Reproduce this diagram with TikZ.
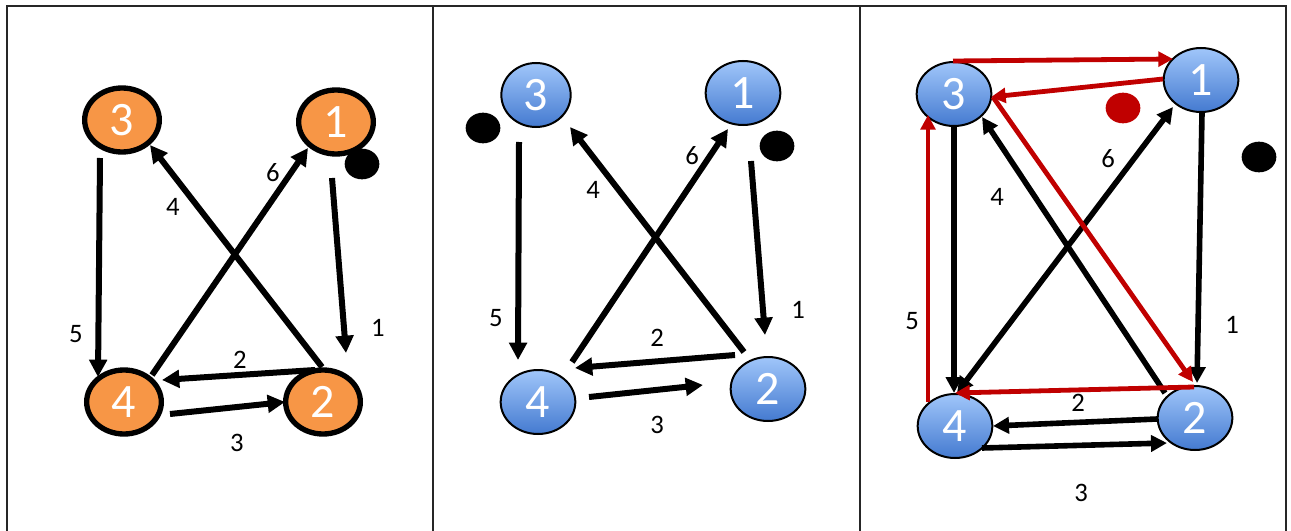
\documentclass[tikz,border=0pt]{standalone}
\usepackage{fontspec}
\setmainfont{Carlito}
\usetikzlibrary{arrows.meta,calc,shapes.geometric}
\definecolor{orng}{RGB}{247,150,70}
\definecolor{btop}{RGB}{160,198,250}
\definecolor{bbot}{RGB}{68,122,208}
\definecolor{redc}{RGB}{192,0,0}
\tikzset{
  onode/.style={ellipse,draw=black,line width=4pt,fill=orng,minimum width=56pt,minimum height=48pt,inner sep=0pt,text=white,font=\fontsize{36}{36}\selectfont},
  bnode/.style={ellipse,draw=black,line width=1.5pt,top color=btop,bottom color=bbot,minimum width=56pt,minimum height=48pt,inner sep=0pt,text=white,font=\fontsize{36}{36}\selectfont},
  arr/.style={line width=4.5pt,-{Triangle[length=13pt,width=13pt]}},
  arrb/.style={line width=4.2pt,-{Triangle[length=12pt,width=12pt]}},
  arrbb/.style={line width=4.2pt,{Triangle[length=12pt,width=12pt]}-{Triangle[length=12pt,width=12pt]}},
  arrr/.style={line width=3.6pt,draw=redc,-{Triangle[length=11pt,width=11pt]}},
  lbl/.style={font=\fontsize{20}{20}\selectfont,inner sep=0pt},
  blob/.style={ellipse,fill=black,minimum width=26pt,minimum height=23pt,inner sep=0pt},
  panelframe/.style={line width=1.8pt,draw=black!85}
}
\begin{document}
\begin{tikzpicture}[x=0.75pt,y=-0.75pt]
\useasboundingbox (0,0) rectangle (1291,531);
% frame
\draw[panelframe] (7,545) -- (7,6) -- (1286,6) -- (1286,545);
\draw[panelframe] (433,6) -- (433,545);
\draw[panelframe] (860,6) -- (860,545);

% ---------- panel 1 ----------
\node[onode] (a1) at (336,122) {1};
\node[onode] (a2) at (323,402) {2};
\node[onode] (a3) at (122,120) {3};
\node[onode] (a4) at (124,402) {4};
\node[blob] (ad) at (362,164) {};
\draw[arr] ($(a3)+(-22,38)$) -- ($(a4)+(-26,-25)$);
\draw[arr] ($(a1)+(-4,56)$) -- ($(a2)+(23,-49)$);
\draw[arr] ($(a2)+(-1,-35)$) -- ($(a3)+(28,25)$);
\draw[arr] ($(a4)+(28,-27)$) -- ($(a1)+(-28,26)$);
\draw[arr] ($(a2)+(-8,-32)$) -- ($(a4)+(38,-22)$);
\draw[arr] ($(a4)+(46,12)$) -- ($(a2)+(-38,0)$);
\node[lbl] (al5) at (76,334) {5};
\node[lbl] (al1) at (378,328) {1};
\node[lbl] (al4) at (173,207) {4};
\node[lbl] (al6) at (273,173) {6};
\node[lbl] (al2) at (240,360) {2};
\node[lbl] (al3) at (237,443) {3};

% ---------- panel 2 ----------
\node[bnode] (b1) at (743,93) {1};
\node[bnode] (b2) at (768,389) {2};
\node[bnode,minimum width=52pt] (b3) at (536,95) {3};
\node[bnode] (b4) at (538,402) {4};
\node[blob] (bd1) at (483,128) {};
\node[blob] (bd2) at (777,146) {};
\draw[arr] ($(b3)+(-17,47)$) -- ($(b4)+(-20,-42)$);
\draw[arr] ($(b1)+(8,68)$) -- ($(b2)+(-3,-54)$);
\draw[arr] ($(b2)+(-24,-37)$) -- ($(b3)+(34,32)$);
\draw[arr] ($(b4)+(34,-40)$) -- ($(b1)+(-15,36)$);
\draw[arr] ($(b2)+(-33,-34)$) -- ($(b4)+(37,-34)$);
\draw[arr] ($(b4)+(51,-5)$) -- ($(b2)+(-65,-4)$);
\node[lbl] (bl5) at (496,318) {5};
\node[lbl] (bl1) at (798,310) {1};
\node[lbl] (bl4) at (593,190) {4};
\node[lbl] (bl6) at (692,156) {6};
\node[lbl] (bl2) at (657,338) {2};
\node[lbl] (bl3) at (657,425) {3};

% ---------- panel 3 ----------
\node[bnode] (c1) at (1201,80) {1};
\node[bnode] (c2) at (1195,418) {2};
\node[bnode] (c3) at (954,94) {3};
\node[bnode] (c4) at (955,426) {4};
\node[blob,fill=redc] (cd1) at (1123,108) {};
\node[blob] (cd2) at (1259,157) {};
% black
\draw[arrb] ($(c3)+(0,33)$) -- ($(c4)+(-1,-33)$);
\draw[arrb] ($(c1)+(1,33)$) -- ($(c2)+(2,-35)$);
\draw[arrb] ($(c2)+(-30,-25)$) -- ($(c3)+(28,23)$);
\draw[arrbb] ($(c4)+(2,-33)$) -- ($(c1)+(-28,27)$);
\draw[arrb] ($(c2)+(-38,1)$) -- ($(c4)+(38,0)$);
\draw[arrb] ($(c4)+(27,22)$) -- ($(c2)+(-28,25)$);
% red
\draw[arrr] ($(c3)+(-1,-33)$) -- ($(c1)+(-28,-21)$);
\draw[arrr] ($(c1)+(-38,-1)$) -- ($(c3)+(37,3)$);
\draw[arrr] ($(c3)+(39,3)$) -- ($(c2)+(-2,-36)$);
\draw[arrr] ($(c2)+(-1,-31)$) -- ($(c4)+(0,-33)$);
\draw[arrr] ($(c4)+(-27,-24)$) -- ($(c3)+(-26,21)$);
\node[lbl] (cl6) at (1108,159) {6};
\node[lbl] (cl4) at (997,197) {4};
\node[lbl] (cl5) at (912,321) {5};
\node[lbl] (cl1) at (1232,325) {1};
\node[lbl] (cl2) at (1078,403) {2};
\node[lbl] (cl3) at (1081,493) {3};
\end{tikzpicture}
\end{document}
